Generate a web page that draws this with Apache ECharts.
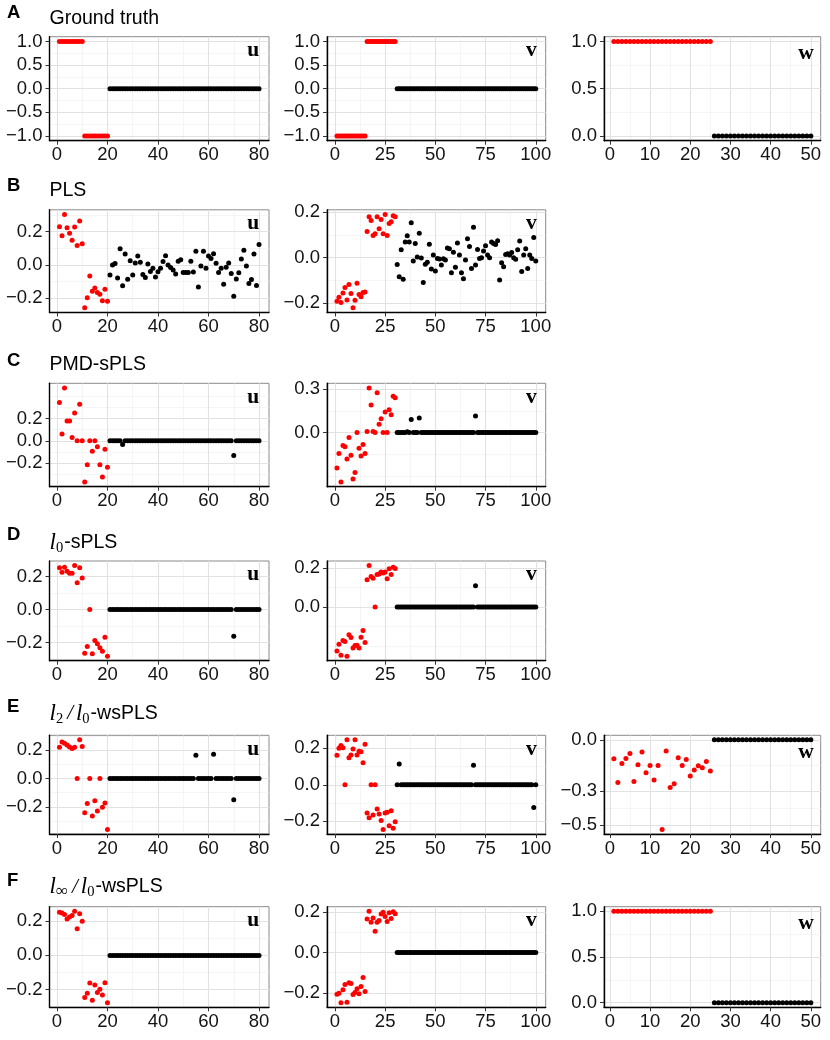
<!DOCTYPE html>
<html><head><meta charset="utf-8">
<script src="https://cdn.jsdelivr.net/npm/echarts@6/dist/echarts.min.js"></script>
<style>html,body{margin:0;padding:0;background:#fff}#c{width:830px;height:1040px}</style>
</head><body><div id="c"></div>
<script>
// ---------- data (index i -> x = i+1) ----------
const A_u = [1,1,1,1,1,1,1,1,1,1, -1,-1,-1,-1,-1,-1,-1,-1,-1,-1,
 0,0,0,0,0,0,0,0,0,0, 0,0,0,0,0,0,0,0,0,0, 0,0,0,0,0,0,0,0,0,0,
 0,0,0,0,0,0,0,0,0,0, 0,0,0,0,0,0,0,0,0,0, 0,0,0,0,0,0,0,0,0,0];
const A_v = [-1,-1,-1,-1,-1,-1,-1,-1,-1,-1,-1,-1,-1,-1,-1, 1,1,1,1,1,1,1,1,1,1,1,1,1,1,1,
 0,0,0,0,0,0,0,0,0,0, 0,0,0,0,0,0,0,0,0,0, 0,0,0,0,0,0,0,0,0,0, 0,0,0,0,0,0,0,0,0,0,
 0,0,0,0,0,0,0,0,0,0, 0,0,0,0,0,0,0,0,0,0, 0,0,0,0,0,0,0,0,0,0];
const A_w = [1,1,1,1,1,1,1,1,1,1,1,1,1,1,1,1,1,1,1,1,1,1,1,1,1,
 0,0,0,0,0,0,0,0,0,0,0,0,0,0,0,0,0,0,0,0,0,0,0,0,0];

const B_u = [0.229,0.175,0.302,0.222,0.19,0.147,0.227,0.116,0.263,0.127,
 -0.257,-0.196,-0.067,-0.157,-0.139,-0.165,-0.176,-0.214,-0.145,-0.218,
 -0.061,0.0,0.008,-0.078,0.096,-0.125,0.065,-0.086,0.025,-0.061,
 0.012,0.053,0.016,-0.057,-0.076,0.006,-0.039,-0.02,-0.073,-0.041,
 -0.02,0.02,0.055,0.0,-0.016,-0.031,-0.055,0.022,0.031,-0.045,
 -0.045,-0.045,0.022,-0.043,0.082,-0.133,-0.006,0.082,-0.02,0.053,
 0.039,0.067,0.01,-0.045,-0.02,-0.116,-0.014,0.012,-0.051,-0.188,
 -0.084,-0.047,0.035,0.088,-0.006,-0.112,-0.088,0.065,-0.124,0.122];
const B_v = [-0.191,-0.173,-0.197,-0.155,-0.131,-0.186,-0.117,-0.157,-0.22,-0.187,
 -0.112,-0.161,-0.171,-0.153,-0.15, 0.115,0.18,0.163,0.098,0.105,
 0.18,0.127,0.168,0.105,0.19,0.098,0.15,0.158,0.184,0.18,
 -0.03,-0.083,0.035,-0.095,0.069,0.096,0.069,0.154,-0.014,0.062,
 0.003,0.108,-0.001,-0.109,-0.029,-0.02,0.059,-0.049,0.012,-0.058,
 -0.003,-0.006,-0.032,-0.004,-0.01,0.043,0.04,-0.066,0.024,-0.042,
 0.065,0.012,-0.066,-0.092,-0.01,0.083,0.049,-0.047,0.134,-0.032,
 0.036,-0.003,0.0,0.03,0.053,0.012,0.0,0.069,0.062,0.058,
 0.075,-0.098,-0.022,-0.04,0.014,0.017,0.012,0.023,0.0,-0.007,
 0.035,0.073,-0.06,0.012,0.04,-0.047,0.012,-0.003,0.089,-0.014];

const C_u = [0.344,0.062,0.474,0.178,0.178,0.03,0.249,0,0.329,0,
 -0.37,-0.216,0,-0.095,0,-0.053,-0.216,-0.326,-0.077,-0.237,
 0,0,0,0,0,-0.033,0,0,0,0, 0,0,0,0,0,0,0,0,0,0, 0,0,0,0,0,0,0,0,0,0,
 0,0,0,0,0,0,0,0,0,0, 0,0,0,0,0,0,0,0,0,-0.133, 0,0,0,0,0,0,0,0,0,0];
const C_v = [-0.245,-0.145,-0.341,-0.089,-0.098,-0.182,-0.034,-0.157,-0.32,-0.275,
 0,-0.109,-0.161,-0.082,-0.145, 0.007,0.307,0.189,0.007,0,
 0.275,0.057,0.095,0,0.141,0,0.157,0.123,0.25,0.239,
 0,0,0,0,0,0.005,0,0.089,0,0, 0,0.1,0,0,0,0,0,0,0,0, 0,0,0,0,0,0,0,0,0,0,
 0,0,0,0,0,0,0,0,0,0.114, 0,0,0,0,0,0,0,0,0,0, 0,0,0,0,0,0,0,0,0,0,
 0,0,0,0,0,0,0,0,0,0];

const D_u = [0.253,0.226,0.257,0.232,0.22,0.22,0.267,0.162,0.253,0.192,
 -0.265,-0.224,0,-0.269,-0.188,-0.208,-0.232,-0.253,-0.168,-0.283,
 0,0,0,0,0,0,0,0,0,0, 0,0,0,0,0,0,0,0,0,0, 0,0,0,0,0,0,0,0,0,0,
 0,0,0,0,0,0,0,0,0,0, 0,0,0,0,0,0,0,0,0,-0.162, 0,0,0,0,0,0,0,0,0,0];
const D_v = [-0.224,-0.19,-0.246,-0.171,-0.176,-0.251,-0.142,-0.156,-0.209,-0.197,
 -0.195,-0.209,-0.154,-0.12,-0.181, 0.14,0.212,0.156,0.147,0,
 0.166,0.169,0.179,0.174,0.179,0.145,0.195,0.166,0.203,0.197,
 0,0,0,0,0,0,0,0,0,0, 0,0,0,0,0,0,0,0,0,0, 0,0,0,0,0,0,0,0,0,0,
 0,0,0,0,0,0,0,0,0,0.109, 0,0,0,0,0,0,0,0,0,0, 0,0,0,0,0,0,0,0,0,0,
 0,0,0,0,0,0,0,0,0,0];

const E_u = [0.221,0.258,0.249,0.237,0.223,0.212,0.221,0,0.274,0.226,
 -0.242,-0.177,0,-0.265,-0.156,-0.23,0,-0.202,-0.172,-0.36,
 0,0,0,0,0,0,0,0,0,0, 0,0,0,0,0,0,0,0,0,0, 0,0,0,0,0,0,0,0,0,0,
 0,0,0,0,0.165,0,0,0,0,0, 0,0.172,0,0,0,0,0,0,0,-0.149, 0,0,0,0,0,0,0,0,0,0];
const E_v = [0.162,0.2,0.216,0.204,0,0.247,0.148,0.164,0.196,0.247,
 0.164,0.184,0.182,0.121,0.222, -0.155,-0.18,0,-0.166,0,
 -0.133,-0.16,-0.196,-0.245,-0.155,-0.15,-0.225,-0.142,-0.238,-0.202,
 0,0.114,0,0,0,0,0,0,0,0, 0,0,0,0,0,0,0,0,0,0, 0,0,0,0,0,0,0,0,0,0,
 0,0,0,0,0,0,0,0,0.108,0, 0,0,0,0,0,0,0,0,0,0, 0,0,0,0,0,0,0,0,0,0,
 0,0,0,0,0,0,0,0,-0.124,0];
const E_w = [-0.112,-0.252,-0.139,-0.11,-0.081,-0.246,-0.147,-0.072,-0.194,-0.151,
 -0.236,-0.151,-0.528,-0.066,-0.281,-0.259,-0.106,-0.151,-0.116,-0.213,
 -0.178,-0.153,-0.164,-0.128,-0.184,
 0,0,0,0,0,0,0,0,0,0,0,0,0,0,0,0,0,0,0,0,0,0,0,0,0];

const F_u = [0.253,0.249,0.24,0.214,0.226,0.234,0.259,0.157,0.245,0.201,
 -0.247,-0.222,-0.162,-0.263,-0.174,-0.218,-0.199,-0.232,-0.16,-0.278,
 0,0,0,0,0,0,0,0,0,0, 0,0,0,0,0,0,0,0,0,0, 0,0,0,0,0,0,0,0,0,0,
 0,0,0,0,0,0,0,0,0,0, 0,0,0,0,0,0,0,0,0,0, 0,0,0,0,0,0,0,0,0,0];
const F_v = [-0.207,-0.202,-0.249,-0.185,-0.159,-0.247,-0.15,-0.153,-0.208,-0.198,
 -0.18,-0.205,-0.169,-0.124,-0.193, 0.167,0.205,0.15,0.172,0.106,
 0.15,0.159,0.192,0.2,0.179,0.154,0.198,0.169,0.203,0.193,
 0,0,0,0,0,0,0,0,0,0, 0,0,0,0,0,0,0,0,0,0, 0,0,0,0,0,0,0,0,0,0,
 0,0,0,0,0,0,0,0,0,0, 0,0,0,0,0,0,0,0,0,0, 0,0,0,0,0,0,0,0,0,0,
 0,0,0,0,0,0,0,0,0,0];
const F_w = [1,1,1,1,1,1,1,1,1,1,1,1,1,1,1,1,1,1,1,1,1,1,1,1,1,
 0,0,0,0,0,0,0,0,0,0,0,0,0,0,0,0,0,0,0,0,0,0,0,0,0];

// number of leading (red, truly non-zero) entries for each variable block
const redCount = {u: 20, v: 30, w: 25};

// ---------- tick labels / grid breaks ----------
const xBreaks = {u:[0,20,40,60,80], v:[0,25,50,75,100], w:[0,10,20,30,40,50]};
const xMinor  = {u:[10,30,50,70], v:[12.5,37.5,62.5,87.5], w:[5,15,25,35,45]};
const yBreaksA  = [-1,-0.5,0,0.5,1],  yMinorA  = [-0.75,-0.25,0.25,0.75];
const yBreaksW1 = [0,0.5,1],          yMinorW1 = [0.25,0.75];
const yBreaks02 = [-0.2,0,0.2],       yMinor02 = [-0.4,-0.3,-0.1,0.1,0.3,0.4];
const yBreaksCv = [0,0.3],            yMinorCv = [-0.3,-0.15,0.15,0.45];
const yBreaksDv = [0,0.2],            yMinorDv = [-0.2,-0.1,0.1,0.3];
const yBreaksEw = [-0.5,-0.3,0],      yMinorEw = [-0.4,-0.15];

const rowTitles = [
  {letter:'A', title:'{n|Ground truth}'},
  {letter:'B', title:'{n|PLS}'},
  {letter:'C', title:'{n|PMD-sPLS}'},
  {letter:'D', title:'{it|l}{sub|0}{n|-sPLS}'},
  {letter:'E', title:'{it|l}{sub|2}{op|/}{it|l}{sub|0}{n|-wsPLS}'},
  {letter:'F', title:'{it|l}{subi|∞}{op|/}{it|l}{sub|0}{n|-wsPLS}'}
];

// ---------- layout ----------
const rowBox = [[36.7,140.7],[209.8,312.5],[383.3,486.7],[561,660.7],[735.3,834],[906.7,1007.3]];
const colBox = {u:[49.5,269], v:[327,545.7], w:[604,820.7]};
const titleBase = [25.3,196.7,371,549.3,720,893.3];
const letterBase = [19.3,191.7,366.7,541,713.3,886.7];

const panels = [
  {row:0, v:'u', vals:A_u, yb:yBreaksA,  ym:yMinorA},
  {row:0, v:'v', vals:A_v, yb:yBreaksA,  ym:yMinorA},
  {row:0, v:'w', vals:A_w, yb:yBreaksW1, ym:yMinorW1},
  {row:1, v:'u', vals:B_u, yb:yBreaks02, ym:yMinor02},
  {row:1, v:'v', vals:B_v, yb:yBreaks02, ym:yMinor02},
  {row:2, v:'u', vals:C_u, yb:yBreaks02, ym:yMinor02},
  {row:2, v:'v', vals:C_v, yb:yBreaksCv, ym:yMinorCv},
  {row:3, v:'u', vals:D_u, yb:yBreaks02, ym:yMinor02},
  {row:3, v:'v', vals:D_v, yb:yBreaksDv, ym:yMinorDv},
  {row:4, v:'u', vals:E_u, yb:yBreaks02, ym:yMinor02},
  {row:4, v:'v', vals:E_v, yb:yBreaks02, ym:yMinor02},
  {row:4, v:'w', vals:E_w, yb:yBreaksEw, ym:yMinorEw},
  {row:5, v:'u', vals:F_u, yb:yBreaks02, ym:yMinor02},
  {row:5, v:'v', vals:F_v, yb:yBreaks02, ym:yMinor02},
  {row:5, v:'w', vals:F_w, yb:yBreaksW1, ym:yMinorW1}
];

const FONT = '"Liberation Sans", Arial, Helvetica, sans-serif';
const SERIF = '"Liberation Serif", "Times New Roman", serif';
const grids = [], xAxes = [], yAxes = [], series = [], gfx = [];
const minorStyle = {color:'#efefef', width:0.6, type:'solid'};
const majorStyle = {color:'#e2e2e2', width:1.1, type:'solid'};
const fmtY = v => (Math.abs(v) < 1e-9 ? '0.0' : (v < 0 ? '\u2212' + (-v).toFixed(1) : v.toFixed(1)));

panels.forEach((p, i) => {
  const [top, bottom] = rowBox[p.row];
  const [left, right] = colBox[p.v];
  const n = p.vals.length;
  const xmin = 1 - 0.05 * (n - 1), xmax = n + 0.05 * (n - 1);
  const lo = Math.min(...p.vals), hi = Math.max(...p.vals);
  const ymin = lo - 0.05 * (hi - lo), ymax = hi + 0.05 * (hi - lo);
  grids.push({left, top, width: right - left, height: bottom - top, show: true,
    borderColor: '#8a8a8a', borderWidth: 1, backgroundColor: 'transparent'});
  const xb = xBreaks[p.v];
  xAxes.push({type:'value', gridIndex:i, min:xmin, max:xmax, z:6,
    axisLine:{show:true, onZero:false, lineStyle:{color:'#000', width:1.4}},
    axisTick:{show:true, length:4, customValues:xb, lineStyle:{color:'#333', width:1}},
    axisLabel:{customValues:xb, margin:5, fontSize:18.5, fontFamily:FONT, color:'#141414',
      formatter: v => String(Math.round(v))},
    splitLine:{show:false}});
  yAxes.push({type:'value', gridIndex:i, min:ymin, max:ymax, z:6,
    axisLine:{show:true, onZero:false, lineStyle:{color:'#000', width:1.4}},
    axisTick:{show:true, length:4, customValues:p.yb, lineStyle:{color:'#333', width:1}},
    axisLabel:{customValues:p.yb, margin:7, fontSize:18.5, fontFamily:FONT, color:'#141414',
      formatter: fmtY},
    splitLine:{show:false}});
  const lines = [];
  xMinor[p.v].forEach(v => { if (v > xmin && v < xmax) lines.push({xAxis:v, lineStyle:minorStyle}); });
  p.ym.forEach(v => { if (v > ymin && v < ymax) lines.push({yAxis:v, lineStyle:minorStyle}); });
  xb.forEach(v => { if (v > xmin && v < xmax) lines.push({xAxis:v, lineStyle:majorStyle}); });
  p.yb.forEach(v => { if (v > ymin && v < ymax) lines.push({yAxis:v, lineStyle:majorStyle}); });
  series.push({type:'scatter', xAxisIndex:i, yAxisIndex:i, data:[], silent:true, z:1,
    markLine:{silent:true, z:1, symbol:['none','none'], label:{show:false}, animation:false,
      emphasis:{disabled:true}, data:lines}});
  const nr = redCount[p.v];
  const red = [], blk = [];
  p.vals.forEach((v, k) => (k < nr ? red : blk).push([k + 1, v]));
  series.push({type:'scatter', xAxisIndex:i, yAxisIndex:i, data:blk, symbolSize:5,
    itemStyle:{color:'#000000', opacity:1, borderWidth:0}, silent:true, z:3, animation:false});
  series.push({type:'scatter', xAxisIndex:i, yAxisIndex:i, data:red, symbolSize:5,
    itemStyle:{color:'#ff0000', opacity:1, borderWidth:0}, silent:true, z:4, animation:false});
  // panel tag (u / v / w)
  const inset = {u:9.7, v:9, w:7}[p.v];
  const off = p.v === 'w' ? 17.2 : 13.7;
  gfx.push({type:'text', x: right - inset, y: top + off, silent:true, z:10,
    style:{text:p.v, fontFamily:SERIF, fontWeight:'bold', fontSize:21.5, fill:'#000',
      align:'right', verticalAlign:'middle'}});
});

rowTitles.forEach((r, i) => {
  gfx.push({type:'text', x:7, y: letterBase[i] - 6, silent:true,
    style:{text:r.letter, fontFamily:FONT, fontWeight:'bold', fontSize:18.5, fill:'#000',
      align:'left', verticalAlign:'middle'}});
  gfx.push({type:'text', x:49.5, y: titleBase[i] - 6.3, silent:true,
    style:{text:r.title, align:'left', verticalAlign:'middle',
      rich:{
        n:{fontFamily:FONT, fontSize:19.5, fill:'#000', lineHeight:26, verticalAlign:'middle'},
        it:{fontFamily:SERIF, fontStyle:'italic', fontSize:23, fill:'#000', lineHeight:26, verticalAlign:'middle'},
        sub:{fontFamily:SERIF, fontSize:14.5, fill:'#000', lineHeight:26, verticalAlign:'bottom', padding:[0,1,0,0]},
        subi:{fontFamily:SERIF, fontSize:17, fill:'#000', lineHeight:26, verticalAlign:'bottom', padding:[0,1,0,0]},
        op:{fontFamily:SERIF, fontStyle:'italic', fontSize:21, fill:'#000', lineHeight:26, verticalAlign:'middle', padding:[0,3,0,3]}
      }}});
});

const chart = echarts.init(document.getElementById('c'), null, {renderer:'canvas'});
chart.setOption({
  animation:false,
  backgroundColor:'#ffffff',
  grid:grids, xAxis:xAxes, yAxis:yAxes, series:series,
  graphic:{elements:gfx}
});
</script>
</body></html>
